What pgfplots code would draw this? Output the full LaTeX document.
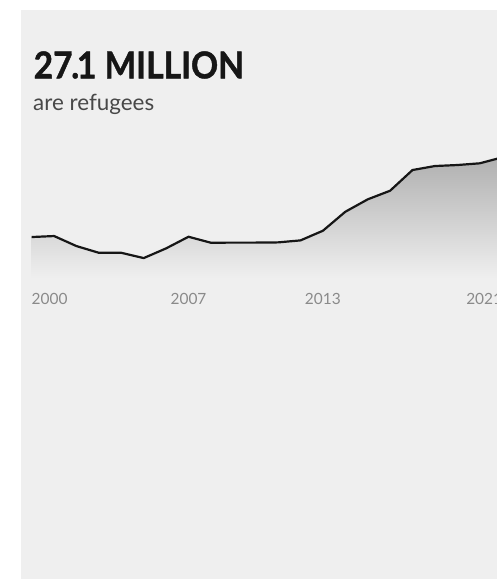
\documentclass[border=0pt]{standalone}
\usepackage{fontspec}
\setmainfont{Lato}
\newfontfamily\titlefont[BoldFeatures={FakeBold=1.2}]{Lato}
\usepackage{graphicx}
\usepackage{pgfplots}
\pgfplotsset{compat=1.18}
\definecolor{panel}{RGB}{239,239,239}
\definecolor{titlecol}{RGB}{22,22,22}
\definecolor{subcol}{RGB}{72,72,72}
\definecolor{tickcol}{RGB}{138,138,138}
\definecolor{topfill}{RGB}{176,176,176}
\begin{document}
\begin{tikzpicture}
\path[use as bounding box] (0,0) rectangle (497bp,579bp);
\clip (0,0) rectangle (497bp,579bp);
\fill[white] (0,0) rectangle (497bp,579bp);
\fill[panel] (21bp,0) rectangle (497bp,569bp);
\node[anchor=base west, inner sep=0pt, text=titlecol, font={\fontsize{37}{37}\selectfont\titlefont\bfseries}] at (33.5bp,500.7bp) {\scalebox{0.91}[1]{27\kern-1.5bp.\kern-2.5bp1 MILLION}};
\node[anchor=base west, inner sep=0pt, text=subcol, font={\fontsize{22.5}{22.5}\selectfont}] at (33bp,468.5bp) {are refugees};
\begin{axis}[
  at={(31.7bp,301bp)}, anchor=south west,
  scale only axis, width=470.4bp, height=120.6bp,
  xmin=2000, xmax=2021, ymin=10.2, ymax=27.1,
  clip=false,
  axis line style={draw=none},
  tick style={draw=none},
  ytick=\empty,
  xtick={2000,2007,2013,2021},
  xticklabels={\makebox[0pt][l]{2000},2007,2013,\makebox[0pt][r]{2021}},
  xticklabel style={anchor=north, inner sep=0pt, yshift=-15bp, text=tickcol, font={\fontsize{15.5}{15.5}\selectfont}},
]
\addplot[draw=none, top color=topfill, bottom color=panel] coordinates {
(2000,10.2) (2000,15.94) (2001,16.08) (2002,14.67) (2003,13.73) (2004,13.73) (2005,12.99) (2006,14.35) (2007,15.98) (2008,15.14) (2009,15.16) (2010,15.16) (2011,15.19) (2012,15.47) (2013,16.82) (2014,19.48) (2015,21.22) (2016,22.43) (2017,25.33) (2018,25.89) (2019,26.03) (2020,26.27) (2021,27.1) (2021,10.2)
};
\addplot[color=titlecol, line width=2.2bp, line join=round, mark=none] coordinates {
(2000,15.94) (2001,16.08) (2002,14.67) (2003,13.73) (2004,13.73) (2005,12.99) (2006,14.35) (2007,15.98) (2008,15.14) (2009,15.16) (2010,15.16) (2011,15.19) (2012,15.47) (2013,16.82) (2014,19.48) (2015,21.22) (2016,22.43) (2017,25.33) (2018,25.89) (2019,26.03) (2020,26.27) (2021,27.1)
};
\end{axis}
\end{tikzpicture}
\end{document}
